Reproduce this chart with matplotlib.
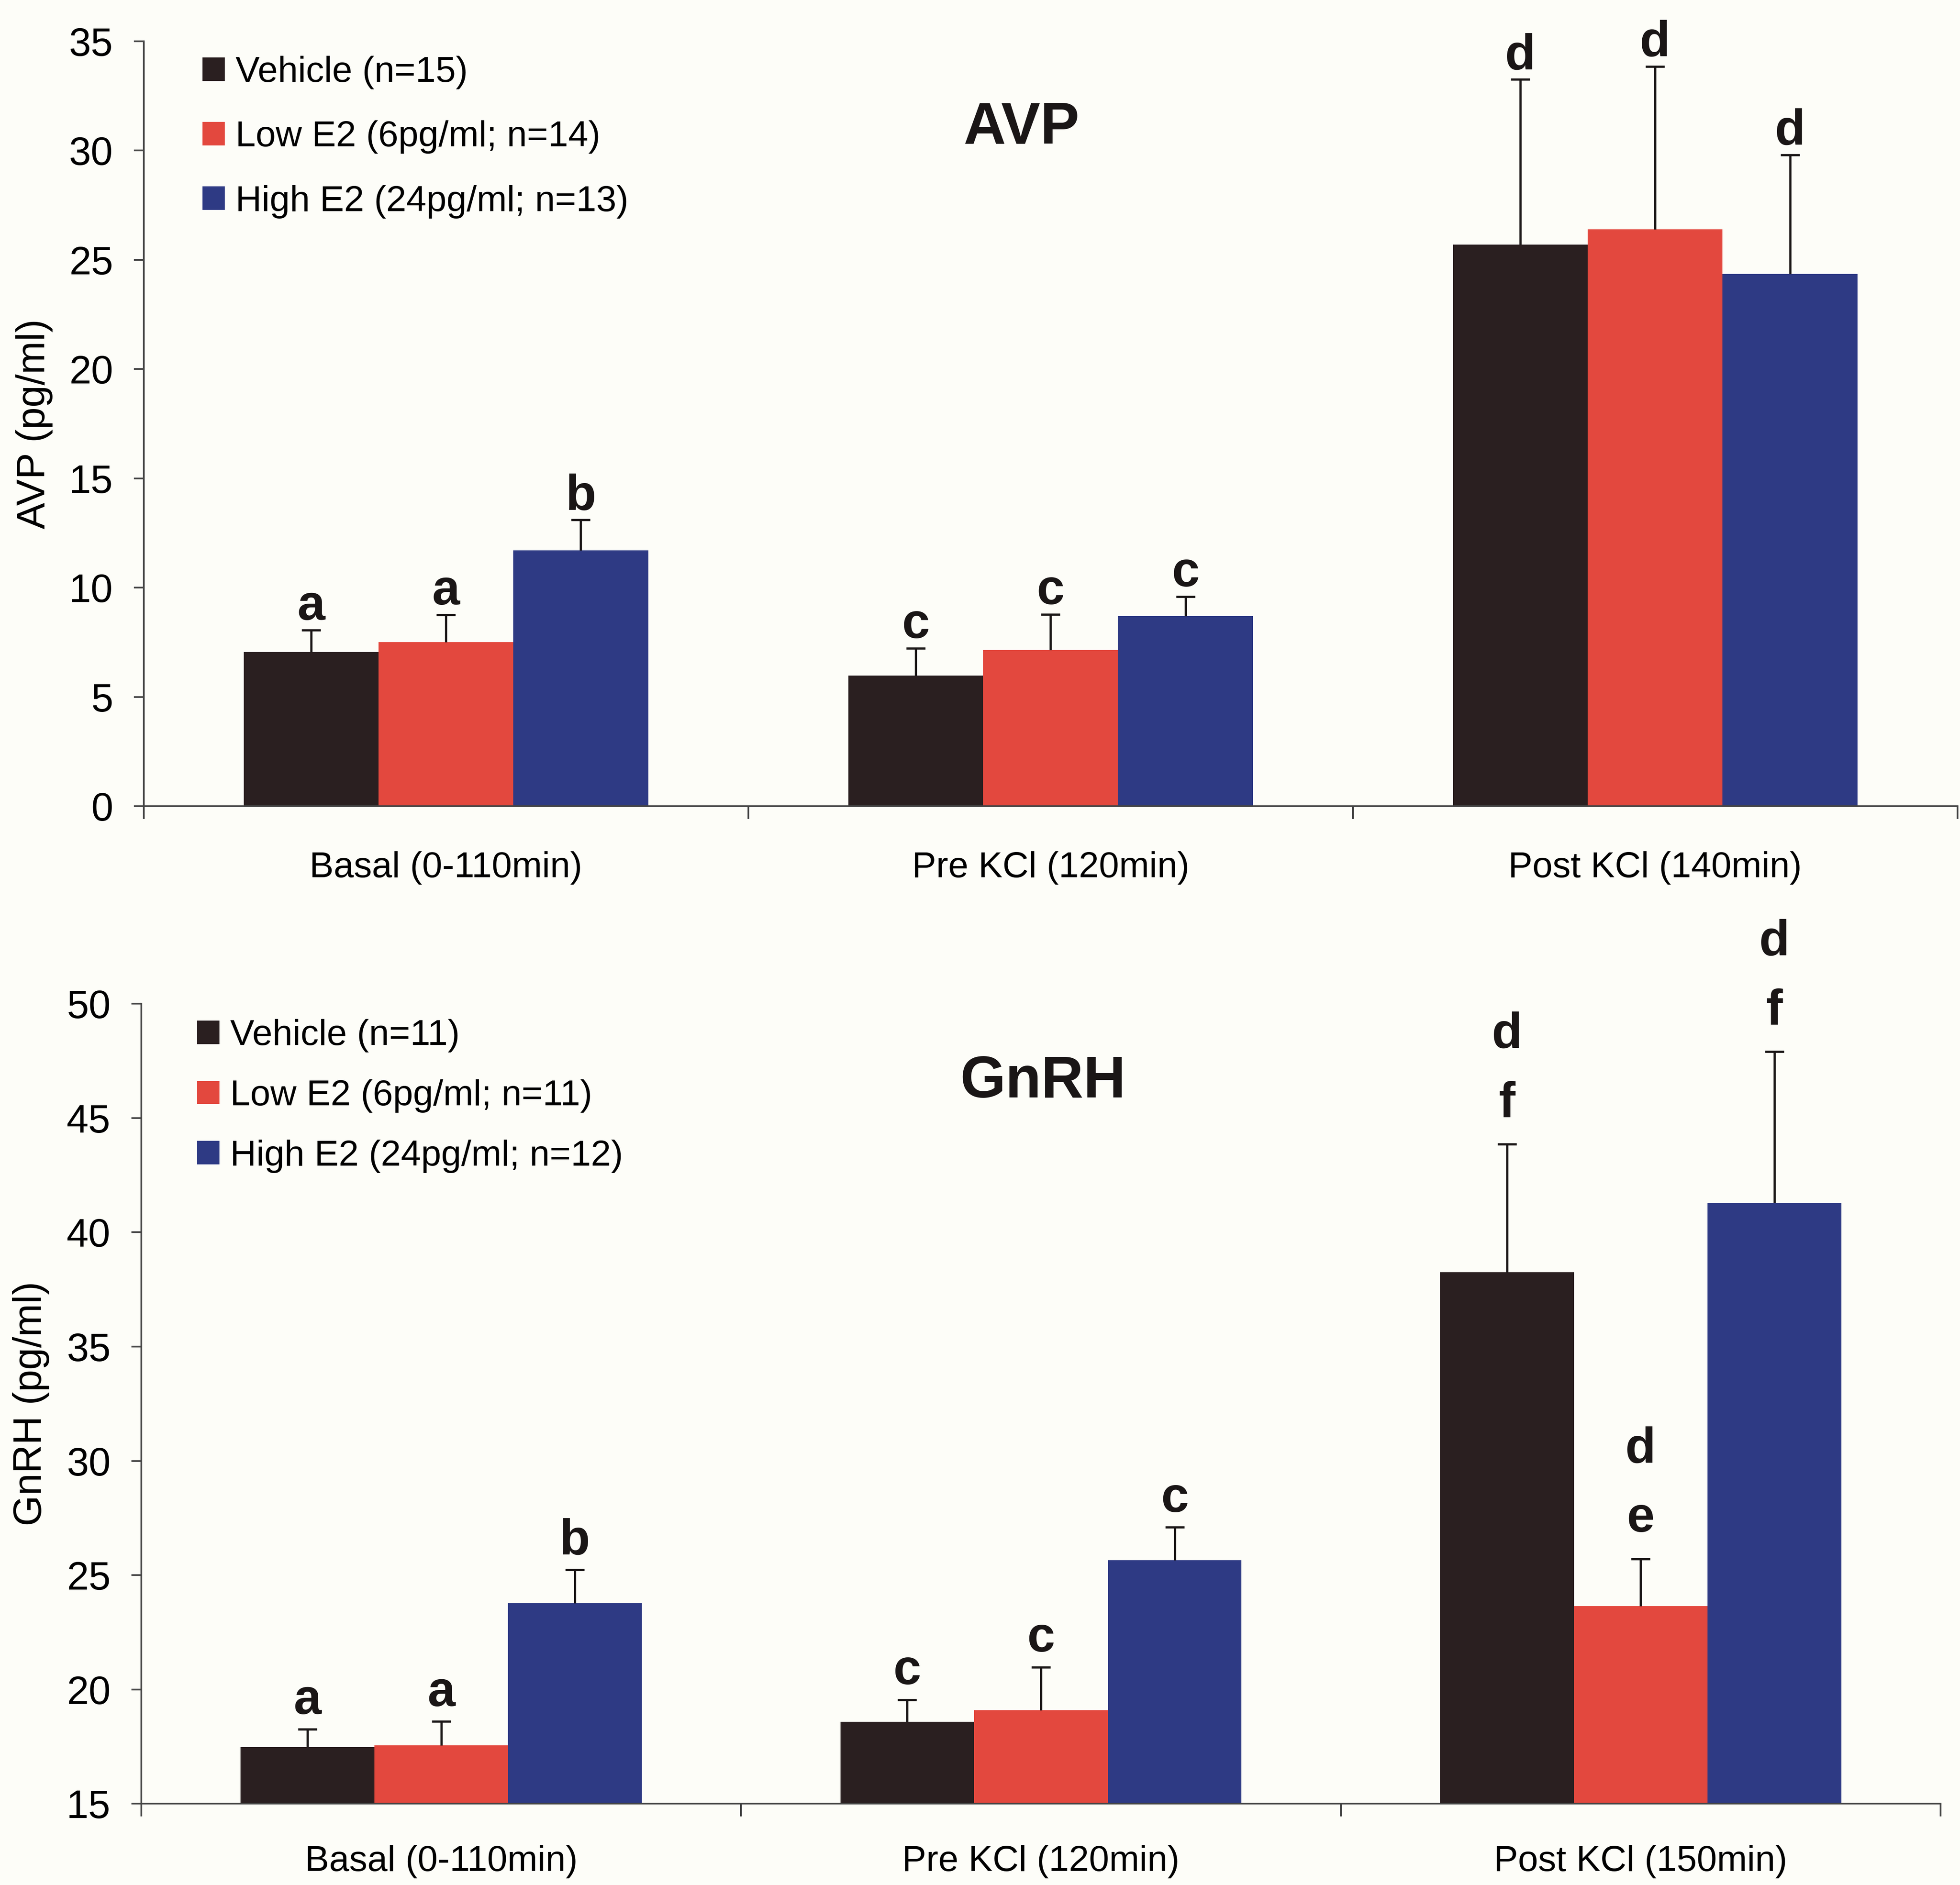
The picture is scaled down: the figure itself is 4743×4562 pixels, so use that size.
#! /usr/bin/env python3
#
# AVP and GnRH release: vehicle vs low / high E2, three sampling periods

import matplotlib

matplotlib.use("Agg")
import matplotlib.pyplot as plt
import numpy as np
from matplotlib.patches import Patch
from matplotlib.ticker import FixedLocator, MultipleLocator

plt.rcParams["font.family"] = ["Liberation Sans", "DejaVu Sans"]

# ---- data ----
colors = ["#2a1f20", "#e3483e", "#2e3a84"]

avp_periods = ["Basal (0-110min)", "Pre KCl (120min)", "Post KCl (140min)"]
avp_legend = ["Vehicle (n=15)", "Low E2 (6pg/ml; n=14)", "High E2 (24pg/ml; n=13)"]
avp_vehicle = [7.05, 5.98, 25.7]
avp_low = [7.5, 7.15, 26.4]
avp_high = [11.7, 8.7, 24.35]
avp_vehicle_sem = [1.0, 1.24, 7.55]
avp_low_sem = [1.25, 1.62, 7.45]
avp_high_sem = [1.4, 0.88, 5.45]
avp_vehicle_sig = ["a", "c", "d"]
avp_low_sig = ["a", "c", "d"]
avp_high_sig = ["b", "c", "d"]

gnrh_periods = ["Basal (0-110min)", "Pre KCl (120min)", "Post KCl (150min)"]
gnrh_legend = ["Vehicle (n=11)", "Low E2 (6pg/ml; n=11)", "High E2 (24pg/ml; n=12)"]
gnrh_vehicle = [17.48, 18.58, 38.25]
gnrh_low = [17.55, 19.1, 23.65]
gnrh_high = [23.77, 25.66, 41.3]
gnrh_vehicle_sem = [0.78, 0.97, 5.6]
gnrh_low_sem = [1.05, 1.88, 2.05]
gnrh_high_sem = [1.46, 1.44, 6.6]
gnrh_vehicle_sig = ["a", "c", "d\nf"]
gnrh_low_sig = ["a", "c", "d\ne"]
gnrh_high_sig = ["b", "c", "d\nf"]

BAR_W = 0.223
AXIS_COLOR = "#454545"
INK = "#1a1616"
BG = "#fdfdf8"


def panel(ax, periods, means, sems, sigs, legend_labels, title, ylabel,
          ylim, sig_gap, legend_anchor, legend_spacing, title_xy, ylabel_x,
          xpad):
    x = np.arange(len(periods))
    for i, (m, s, sg) in enumerate(zip(means, sems, sigs)):
        xi = x + (i - 1) * BAR_W
        ax.bar(xi, m, width=BAR_W, color=colors[i], linewidth=0, zorder=2)
        _, caps, _ = ax.errorbar(xi, m, yerr=[np.zeros(len(s)), s], fmt="none",
                                 ecolor=INK, elinewidth=1.3, capsize=5.5,
                                 capthick=1.3, zorder=3)
        # upper error only: drop the cap sitting on the bar top
        for cap in caps:
            if np.allclose(cap.get_ydata(), m):
                cap.set_visible(False)
        for xx, top, lab in zip(xi, np.add(m, s), sg):
            lines = lab.split("\n")
            gap = sig_gap + (7 if len(lines) > 1 else 0)
            # stack multi-letter labels upward from the error cap
            for k, letter in enumerate(reversed(lines)):
                ax.annotate(letter, (xx, top), xytext=(0, gap + 40 * k),
                            textcoords="offset points", ha="center",
                            va="baseline", fontsize=29, fontweight="bold",
                            color=INK)

    ax.set_xlim(-0.5, len(periods) - 0.5)
    ax.set_ylim(*ylim)
    ax.yaxis.set_major_locator(MultipleLocator(5))
    ax.set_xticks(x)
    ax.set_xticklabels(periods, fontsize=21)
    ax.xaxis.set_minor_locator(FixedLocator(np.arange(len(periods) + 1) - 0.5))
    ax.tick_params(axis="x", which="major", length=0, pad=xpad)
    ax.tick_params(axis="x", which="minor", length=7.5, width=1.0,
                   color=AXIS_COLOR, direction="out")
    ax.tick_params(axis="y", length=5.8, width=1.0, color=AXIS_COLOR,
                   pad=12, labelsize=23)

    for side in ("top", "right"):
        ax.spines[side].set_visible(False)
    for side in ("left", "bottom"):
        ax.spines[side].set_color(AXIS_COLOR)
        ax.spines[side].set_linewidth(1.0)
    ax.set_facecolor(BG)

    ax.set_ylabel(ylabel, fontsize=23)
    ax.yaxis.set_label_coords(ylabel_x, 0.5)

    ax.text(title_xy[0], title_xy[1], title, transform=ax.transAxes,
            ha="center", va="center", fontsize=34, fontweight="bold",
            color=INK)

    handles = [Patch(facecolor=c, edgecolor="none") for c in colors]
    ax.legend(handles, legend_labels, loc="upper left",
              bbox_to_anchor=legend_anchor, frameon=False, fontsize=21,
              handlelength=0.62, handleheight=0.62, handletextpad=0.3,
              labelspacing=legend_spacing, borderpad=0, borderaxespad=0)


fig = plt.figure(figsize=(4743 / 300, 4562 / 300), dpi=300, facecolor=BG)

ax_top = fig.add_axes([0.0733, 0.5723, 0.9254, 0.4058])
panel(ax_top, avp_periods,
      [avp_vehicle, avp_low, avp_high],
      [avp_vehicle_sem, avp_low_sem, avp_high_sem],
      [avp_vehicle_sig, avp_low_sig, avp_high_sig],
      avp_legend, "AVP", "AVP (pg/ml)", (0, 35), 6,
      (0.0324, 0.981), 0.86, (0.484, 0.886), -0.050, 26)

ax_bot = fig.add_axes([0.0721, 0.0431, 0.918, 0.4244])
panel(ax_bot, gnrh_periods,
      [gnrh_vehicle, gnrh_low, gnrh_high],
      [gnrh_vehicle_sem, gnrh_low_sem, gnrh_high_sem],
      [gnrh_vehicle_sig, gnrh_low_sig, gnrh_high_sig],
      gnrh_legend, "GnRH", "GnRH (pg/ml)", (15, 50), 9,
      (0.031, 0.981), 0.74, (0.501, 0.902), -0.051, 24)

fig.savefig("out.png", dpi=300, facecolor=BG)
